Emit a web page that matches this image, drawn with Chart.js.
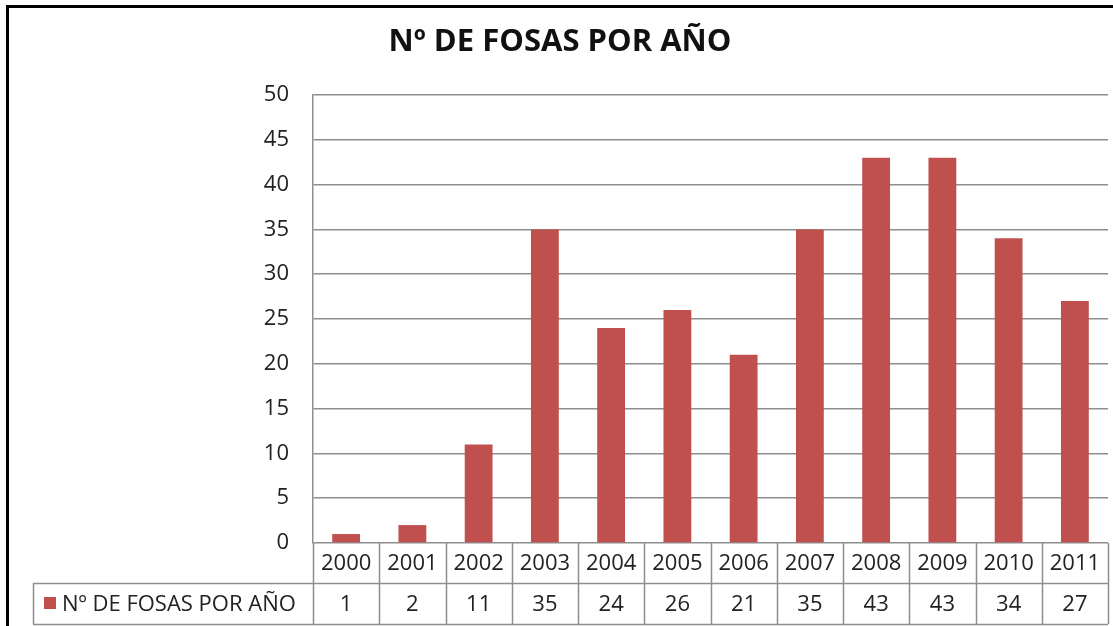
<!DOCTYPE html>
<html>
<head>
<meta charset="utf-8">
<script src="https://cdn.jsdelivr.net/npm/chart.js@4"></script>
<style>
  html, body { margin: 0; padding: 0; background: #fff; }
  #wrap { width: 1113px; height: 626px; position: relative; }
</style>
</head>
<body>
<div id="wrap"><canvas id="fosasChart" width="1113" height="626"></canvas></div>
<script>
// Data
const years = ['2000', '2001', '2002', '2003', '2004', '2005', '2006', '2007', '2008', '2009', '2010', '2011'];
const fosas = [1, 2, 11, 35, 24, 26, 21, 35, 43, 43, 34, 27];
const seriesName = 'Nº DE FOSAS POR AÑO';
const chartTitle = 'Nº DE FOSAS POR AÑO';
const yMin = 0;
const yMax = 50;
const yStep = 5;

const barColor = '#C0504D';
const gridColor = '#8e8e8e';
const textColor = '#222';
const font = '"Open Sans", sans-serif';

// Frame, title and data table below the plot
const tablePlugin = {
    id: 'tablePlugin',
    beforeDraw(chart) {
        const c = chart.ctx;
        c.save();
        c.fillStyle = '#fff';
        c.fillRect(0, 0, chart.width, chart.height);
        c.strokeStyle = '#000';
        c.lineWidth = 3;
        c.beginPath();
        c.moveTo(7.5, chart.height + 5);
        c.lineTo(7.5, 6.5);
        c.lineTo(chart.width + 5, 6.5);
        c.stroke();
        c.fillStyle = '#111';
        c.font = 'bold 31px ' + font;
        c.textAlign = 'center';
        c.textBaseline = 'middle';
        c.fillText(chartTitle, 560, 42);
        c.restore();
    },
    afterDraw(chart) {
        const c = chart.ctx;
        const x = chart.scales.x;
        const area = chart.chartArea;
        const colW = (area.right - area.left) / years.length;
        const row1Top = area.bottom;
        const row2Top = area.bottom + 40;
        const bottom = area.bottom + 81;
        const legendLeft = 33;

        c.save();
        c.strokeStyle = gridColor;
        c.lineWidth = 1.5;
        c.beginPath();
        // horizontal lines
        c.moveTo(legendLeft, row2Top + 0.5);
        c.lineTo(area.right, row2Top + 0.5);
        c.moveTo(legendLeft, bottom + 0.5);
        c.lineTo(area.right, bottom + 0.5);
        // legend cell left edge
        c.moveTo(legendLeft + 0.5, row2Top);
        c.lineTo(legendLeft + 0.5, bottom);
        // category boundaries
        for (let i = 0; i <= years.length; i++) {
            const px = Math.round(x.getPixelForValue(i) - colW / 2) + 0.5;
            c.moveTo(px, row1Top);
            c.lineTo(px, bottom);
        }
        c.stroke();

        c.fillStyle = textColor;
        c.font = '22px ' + font;
        c.textAlign = 'center';
        c.textBaseline = 'middle';
        years.forEach((yr, i) => {
            const cx = x.getPixelForValue(i);
            c.fillText(yr, cx, (row1Top + row2Top) / 2 + 1);
            c.fillText(String(fosas[i]), cx, (row2Top + bottom) / 2 + 1);
        });

        // legend key
        c.fillStyle = barColor;
        c.fillRect(44, row2Top + 14, 12, 12);
        c.fillStyle = textColor;
        c.textAlign = 'left';
        c.fillText(seriesName, 62, (row2Top + bottom) / 2 + 1);
        c.restore();
    }
};

const ctx = document.getElementById('fosasChart').getContext('2d');
const fosasChart = new Chart(ctx, {
    type: 'bar',
    data: {
        labels: years,
        datasets: [{
            label: seriesName,
            data: fosas,
            backgroundColor: barColor,
            borderWidth: 0,
            categoryPercentage: 1,
            barPercentage: 0.42
        }]
    },
    options: {
        responsive: false,
        animation: false,
        layout: {
            padding: { left: 0, right: 5, top: 95, bottom: 83 }
        },
        plugins: {
            legend: { display: false },
            title: { display: false },
            tooltip: { enabled: false }
        },
        scales: {
            x: {
                display: false,
                offset: true
            },
            y: {
                min: yMin,
                max: yMax,
                afterFit(scale) {
                    scale.width = 313;
                },
                grid: {
                    color: gridColor,
                    lineWidth: 1.5,
                    drawTicks: false
                },
                border: {
                    color: gridColor,
                    width: 1.5
                },
                ticks: {
                    stepSize: yStep,
                    padding: 24,
                    color: textColor,
                    font: { family: font, size: 22 }
                }
            }
        }
    },
    plugins: [tablePlugin]
});
</script>
</body>
</html>
